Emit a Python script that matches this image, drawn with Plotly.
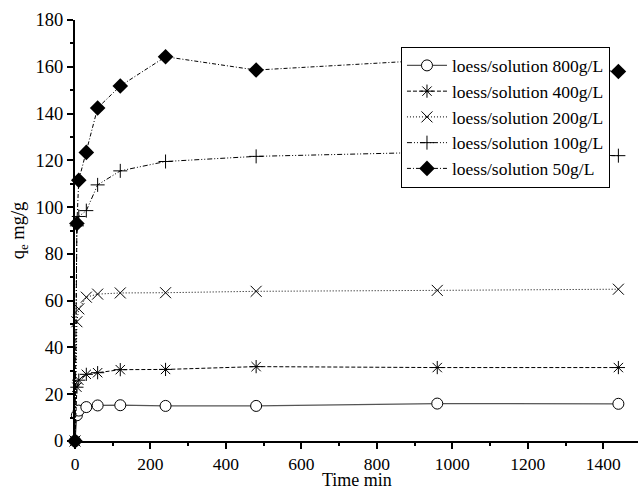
import plotly.graph_objects as go

time = [0, 5, 10, 30, 60, 120, 240, 480, 960, 1440]
q_800 = [0, 11.0, 13.0, 14.5, 15.2, 15.3, 15.0, 15.0, 16.0, 15.9]
q_400 = [0, 23.0, 26.0, 28.5, 29.2, 30.5, 30.6, 31.8, 31.4, 31.4]
q_200 = [0, 51.0, 56.5, 61.5, 62.8, 63.3, 63.4, 64.0, 64.4, 64.9]
q_100 = [0, 92.0, 96.0, 98.5, 109.5, 115.5, 119.5, 121.7, 123.5, 122.0]
q_50 = [0, 93.0, 111.5, 123.4, 142.4, 151.8, 164.3, 158.6, 163.0, 158.0]
names = ["loess/solution 800g/L", "loess/solution 400g/L", "loess/solution 200g/L",
         "loess/solution 100g/L", "loess/solution 50g/L"]

FONT = "Liberation Serif"

fig = go.Figure()
styles = [
    (q_800, dict(color="#555555", width=1.2, dash="solid"),
     dict(symbol="circle", size=11, color="white", line=dict(color="black", width=1))),
    (q_400, dict(color="black", width=1, dash="4px,2px"),
     dict(symbol="asterisk-open", size=11, color="black", line=dict(color="black", width=1))),
    (q_200, dict(color="black", width=1, dash="1px,2px"),
     dict(symbol="x-thin-open", size=11, color="black", line=dict(color="black", width=1))),
    (q_100, dict(color="black", width=1, dash="5px,2px,1px,2px,1px,2px"),
     dict(symbol="cross-thin-open", size=10, color="black", line=dict(color="black", width=1))),
    (q_50, dict(color="black", width=1, dash="4px,2px,1px,2px"),
     dict(symbol="diamond", size=12, color="black", line=dict(color="black", width=0))),
]
for (vals, ln, mk), nm in zip(styles, names):
    fig.add_trace(go.Scatter(x=time, y=vals, mode="lines+markers", name=nm,
                             line=ln, marker=mk, cliponaxis=False))

fig.update_layout(
    width=639, height=488,
    margin=dict(l=75, r=1, t=20, b=47),
    paper_bgcolor="white", plot_bgcolor="white",
    font=dict(family=FONT, size=18, color="black"),
    showlegend=True,
    legend=dict(x=0.579, y=0.937, xanchor="left", yanchor="top",
                bgcolor="white", bordercolor="black", borderwidth=1,
                font=dict(family=FONT, size=17.5), tracegroupgap=0,
                itemwidth=40),
    xaxis=dict(range=[0, 1492], showgrid=False, zeroline=False, automargin=False,
               showline=True, linecolor="black", linewidth=2,
               ticks="outside", ticklen=6, tickwidth=1.5, tickcolor="black",
               dtick=200, tick0=0,
               minor=dict(ticks="outside", ticklen=3, dtick=100, tickcolor="black", tickwidth=1.5),
               tickfont=dict(family=FONT, size=17.5)),
    yaxis=dict(range=[0, 180], showgrid=False, zeroline=False, automargin=False,
               showline=True, linecolor="black", linewidth=2,
               ticks="outside", ticklen=6, tickwidth=1.5, tickcolor="black",
               dtick=20, tick0=0,
               minor=dict(ticks="outside", ticklen=3, dtick=10, tickcolor="black", tickwidth=1.5),
               tickfont=dict(family=FONT, size=18.5),
               title=dict(text="q<sub>e</sub> mg/g", font=dict(family=FONT, size=18.5), standoff=6)),
    annotations=[dict(text="Time min", xref="paper", yref="paper", x=0.5, y=-0.092,
                      xanchor="center", yanchor="middle", showarrow=False,
                      font=dict(family=FONT, size=18))],
)

fig.write_html("out.html")
